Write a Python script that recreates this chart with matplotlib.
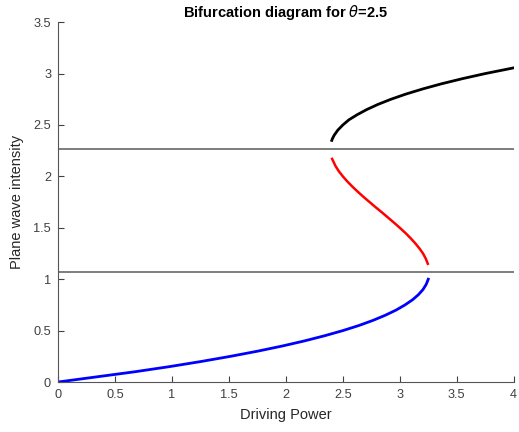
import matplotlib
matplotlib.use("Agg")
import matplotlib.pyplot as plt

plt.rcParams['font.family'] = ['Liberation Sans', 'DejaVu Sans']

# lower branch (blue)
low_power = [0.0, 0.338, 0.676, 0.98, 1.258, 1.515, 1.752, 1.968, 2.164, 2.34, 2.5, 2.642, 2.766, 2.874, 2.968, 3.046, 3.112, 3.164, 3.204, 3.232, 3.25]
low_int = [0.0, 0.05, 0.1, 0.15, 0.2, 0.25, 0.3, 0.35, 0.4, 0.45, 0.5, 0.55, 0.6, 0.65, 0.7, 0.75, 0.8, 0.85, 0.9, 0.95, 1.0]

# middle branch (red)
mid_power = [3.246, 3.228, 3.204, 3.172, 3.135, 3.094, 3.049, 3.0, 2.949, 2.896, 2.843, 2.788, 2.735, 2.682, 2.632, 2.584, 2.54, 2.5, 2.465, 2.436, 2.406]
mid_int = [1.15, 1.2, 1.25, 1.3, 1.35, 1.4, 1.45, 1.5, 1.55, 1.6, 1.65, 1.7, 1.75, 1.8, 1.85, 1.9, 1.95, 2.0, 2.05, 2.1, 2.17]

# upper branch (black)
up_power = [2.403, 2.41, 2.424, 2.456, 2.5, 2.553, 2.626, 2.71, 2.808, 2.922, 3.052, 3.2, 3.364, 3.548, 3.75, 4.02]
up_int = [2.35, 2.37, 2.4, 2.45, 2.5, 2.55, 2.6, 2.65, 2.7, 2.75, 2.8, 2.85, 2.9, 2.95, 3.0, 3.06]

# turning point levels
levels = [1.0657, 2.2676]

fig = plt.figure(figsize=(5.19, 4.32), dpi=100)
ax = fig.add_axes([0.1118, 0.1157, 0.878, 0.833])

for lv in levels:
    ax.plot([0, 4], [lv, lv], color='#5a5a5a', lw=1.1)

ax.plot(low_power, low_int, color='blue', lw=2.0)
ax.plot(mid_power, mid_int, color='red', lw=1.8)
ax.plot(up_power, up_int, color='black', lw=2.0)

ax.set_xlim(0, 4)
ax.set_ylim(0, 3.5)
ax.set_xticks([0, 0.5, 1, 1.5, 2, 2.5, 3, 3.5, 4])
ax.set_xticklabels(['0', '0.5', '1', '1.5', '2', '2.5', '3', '3.5', '4'])
ax.set_yticks([0, 0.5, 1, 1.5, 2, 2.5, 3, 3.5])
ax.set_yticklabels(['0', '0.5', '1', '1.5', '2', '2.5', '3', '3.5'])

for s in ['top', 'right']:
    ax.spines[s].set_visible(False)
for s in ['left', 'bottom']:
    ax.spines[s].set_color('#555555')
    ax.spines[s].set_linewidth(0.8)
ax.tick_params(direction='in', length=4, colors='#404040', labelsize=9.2, width=0.8, pad=5)

ax.set_xlabel('Driving Power', fontsize=10.5, color='#262626', labelpad=5)
ax.set_ylabel('Plane wave intensity', fontsize=10.5, color='#262626', labelpad=7)
ax.set_title(r'Bifurcation diagram for $\theta$=2.5', fontsize=10.5, fontweight='bold', pad=4)

fig.savefig('out.png', dpi=100)
